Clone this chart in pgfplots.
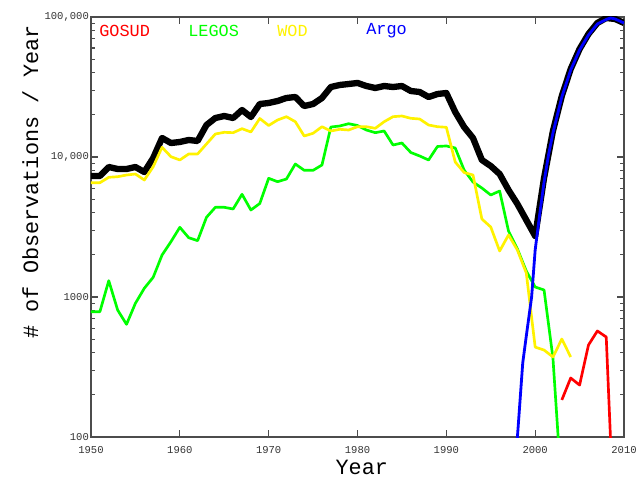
\documentclass[border=0pt]{standalone}
\usepackage{fontspec}
\setmonofont{Liberation Mono}
\usepackage{pgfplots}
\pgfplotsset{compat=1.18}
\begin{document}
\begin{tikzpicture}
\begin{axis}[
  scale only axis, width=13.325cm, height=10.5cm,
  xmin=1950, xmax=2010, ymin=100, ymax=100000, ymode=log,
  clip mode=individual,
  xtick={1950,1960,1970,1980,1990,2000,2010},
  xticklabels={1950,1960,1970,1980,1990,2000,2010},
  ytick={100,1000,10000,100000}, yticklabels={100,1000,{10,000},{100,000}},
  minor ytick={200,300,400,500,600,700,800,900,2000,3000,4000,5000,6000,7000,8000,9000,20000,30000,40000,50000,60000,70000,80000,90000},
  tick align=inside, major tick length=5pt, minor tick length=2.5pt,
  axis line style={black!70, line width=0.8pt},
  tick style={black!70, line width=0.8pt},
  ticklabel style={font=\ttfamily\fontsize{7.5}{8}\selectfont, text=black!80},
  xticklabel style={yshift=-3pt},
  yticklabel style={xshift=2pt},
  xlabel={Year}, ylabel={\# of Observations / Year},
  label style={font=\ttfamily\fontsize{15.5}{18}\selectfont},
  xlabel style={at={(axis description cs:0.508,-0.0714)}, anchor=center},
  ylabel style={at={(axis description cs:-0.114,0.607)}, anchor=center},
  every axis plot/.append style={line join=round},
]
% total
\addplot[black, line width=4.5pt] coordinates {
(1950,7317) (1951,7317) (1952,8483) (1953,8210) (1954,8210) (1955,8483) (1956,7814) (1957,9837)
(1958,13670) (1959,12590) (1960,12800) (1961,13230) (1962,13010) (1963,16930) (1964,18990) (1965,19630)
(1966,18990) (1967,21660) (1968,19310) (1969,23910) (1970,24310) (1971,25120) (1972,26390) (1973,26830)
(1974,23130) (1975,23910) (1976,26390) (1977,31620) (1978,32690) (1979,33220) (1980,33790) (1981,32150)
(1982,31110) (1983,32150) (1984,31620) (1985,32150) (1986,29610) (1987,29130) (1988,26830) (1989,28180)
(1990,28650) (1991,20960) (1992,16380) (1993,13670) (1994,9520) (1995,8624) (1996,7560) (1997,5812)
(1998,4617) (1999,3548) (2000,2727) (2001,7079) (2002,15340) (2003,27270) (2004,42520) (2005,59070)
(2006,75600) (2007,90630) (2008,98370) (2009,96770) (2010,90630)};
% GOSUD
\addplot[red, line width=1.9pt] coordinates {
(2003,184) (2004,264) (2005,235) (2006,454) (2007,572) (2008,518) (2009,16)};
% LEGOS
\addplot[green, line width=1.9pt] coordinates {
(1950,785) (1951,785) (1952,1308) (1953,807) (1954,638) (1955,902) (1956,1154) (1957,1383)
(1958,1995) (1959,2483) (1960,3147) (1961,2652) (1962,2525) (1963,3710) (1964,4373) (1965,4373)
(1966,4253) (1967,5415) (1968,4183) (1969,4655) (1970,7045) (1971,6662) (1972,6964) (1973,8913)
(1974,8035) (1975,8035) (1976,8767) (1977,16380) (1978,16650) (1979,17290) (1980,16790) (1981,15590)
(1982,14920) (1983,15340) (1984,12180) (1985,12590) (1986,10770) (1987,10170) (1988,9520) (1989,11890)
(1990,11990) (1991,11600) (1992,8074) (1993,6627) (1994,6005) (1995,5353) (1996,5716) (1997,2960)
(1998,2203) (1999,1533) (2000,1179) (2001,1122) (2002,367) (2003,40)};
% WOD
\addplot[yellow, line width=1.9pt] coordinates {
(1950,6552) (1951,6552) (1952,7161) (1953,7233) (1954,7437) (1955,7560) (1956,6849) (1957,8525)
(1958,11730) (1959,10050) (1960,9520) (1961,10510) (1962,10510) (1963,12390) (1964,14600) (1965,15010)
(1966,14920) (1967,15930) (1968,15090) (1969,18840) (1970,16790) (1971,18380) (1972,19410) (1973,17870)
(1974,14130) (1975,14770) (1976,16460) (1977,15340) (1978,15770) (1979,15590) (1980,16460) (1981,16460)
(1982,16030) (1983,17870) (1984,19410) (1985,19630) (1986,18900) (1987,18680) (1988,16930) (1989,16460)
(1990,16300) (1991,9210) (1992,7750) (1993,7437) (1994,3607) (1995,3162) (1996,2131) (1997,2773)
(1998,2166) (1999,1484) (2000,439) (2001,418) (2002,373) (2003,501) (2004,373)};
% Argo
\addplot[blue, line width=2pt] coordinates {
(1997.95,90) (1998.6,338) (1999.0,526) (1999.6,1000) (2000.0,2166) (2000.5,3853) (2001.0,6627)
(2001.5,10330) (2002,14840) (2003,26830) (2004,41820) (2005,58120) (2006,74340) (2007,89130)
(2008,96000) (2008.5,98370) (2009,96770) (2010,90630)};
\node[anchor=west, inner sep=0pt, text=red, font=\ttfamily\fontsize{12}{14}\selectfont] at (rel axis cs:0.015,0.967) {GOSUD};
\node[anchor=west, inner sep=0pt, text=green, font=\ttfamily\fontsize{12}{14}\selectfont] at (rel axis cs:0.182,0.967) {LEGOS};
\node[anchor=west, inner sep=0pt, text=yellow, font=\ttfamily\fontsize{12}{14}\selectfont] at (rel axis cs:0.349,0.967) {WOD};
\node[anchor=west, inner sep=0pt, text=blue, font=\ttfamily\fontsize{12}{14}\selectfont] at (rel axis cs:0.516,0.967) {Argo};
\end{axis}
\pgfresetboundingbox
\path[use as bounding box] ([xshift=-2.275cm,yshift=-1cm]current axis.south west) rectangle ([xshift=0.5cm,yshift=0.425cm]current axis.north east);
\end{tikzpicture}
\end{document}
